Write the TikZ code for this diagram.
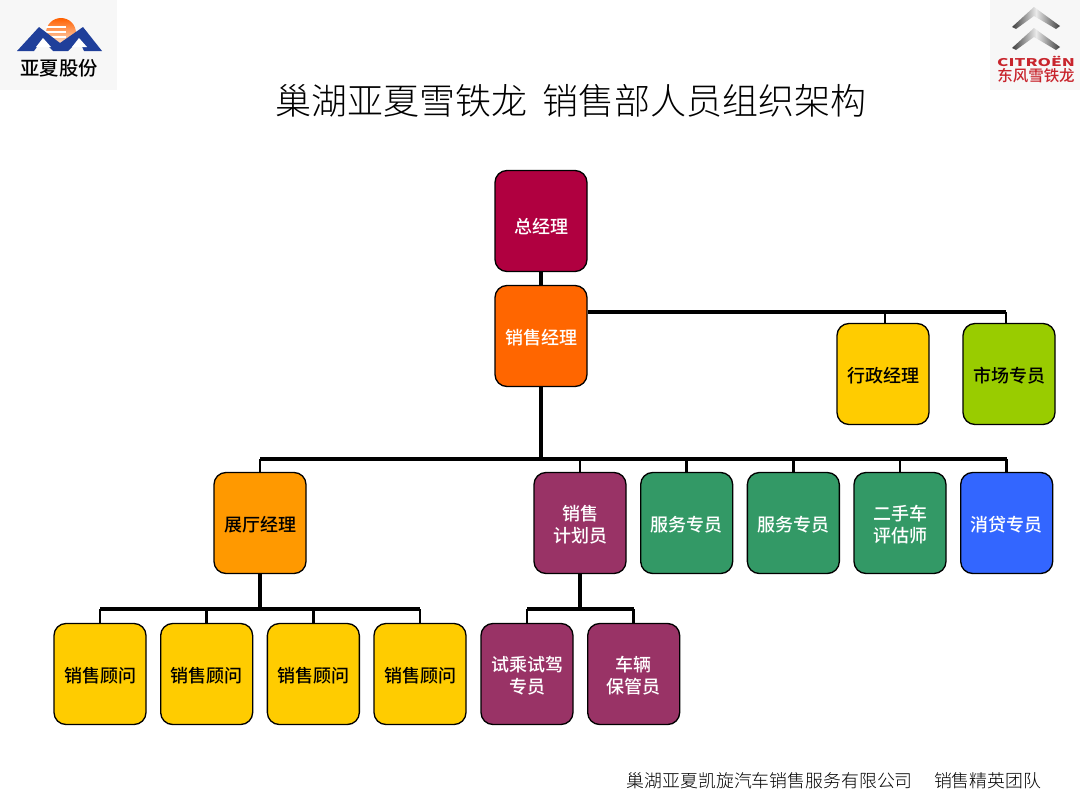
\documentclass[tikz,border=0pt]{standalone}
\usepackage{fontspec}
\setmainfont{Noto Sans CJK SC}
\newfontfamily\thinfont{Noto Sans CJK SC Light}
\newfontfamily\midfont{Noto Sans CJK SC Medium}
\usetikzlibrary{positioning}

\definecolor{crimson}{HTML}{B00040}
\definecolor{orangered}{HTML}{FF6600}
\definecolor{amber}{HTML}{FF9900}
\definecolor{gold}{HTML}{FFCC00}
\definecolor{lime}{HTML}{99CC00}
\definecolor{plum}{HTML}{993366}
\definecolor{teal2}{HTML}{339966}
\definecolor{azure}{HTML}{3366FF}
\definecolor{logoblue}{HTML}{1F3F9A}
\definecolor{logored}{HTML}{C8242C}

\begin{document}
\begin{tikzpicture}[x=0.75pt,y=-0.75pt,node distance=10pt,
  post/.style={draw=black,line width=1pt,rounded corners=9pt,minimum width=69pt,
    minimum height=75.75pt,inner sep=0pt,align=center,
    font=\fontsize{13.5}{16.5}\midfont\selectfont},
  light/.style={post,text=white},
  dark/.style={post,text=black},
  trunk/.style={line width=2.6pt},
  drop/.style={line width=2pt}]
\useasboundingbox (0,0) rectangle (1080,810);

\node[font=\fontsize{27}{32}\thinfont\selectfont] (title) at (571,101) {巢湖亚夏雪铁龙\ \ 销售部人员组织架构};
\node[font=\fontsize{13.4}{16}\thinfont\selectfont,anchor=east] (footer) at (1046,781) {巢湖亚夏凯旋汽车销售服务有限公司\hspace{16pt}销售精英团队};

% top of the chart
\node[light,fill=crimson] (gm) at (541,221) {\rule{0pt}{20pt}总经理};
\node[light,fill=orangered] (sales) at (541,336) {\rule{0pt}{14pt}销售经理};
\node[dark,fill=gold] (admin) at (883,374) {\rule{0pt}{14pt}行政经理};
\node[dark,fill=lime] (market) at (1009,374) {\rule{0pt}{14pt}市场专员};

% third row
\node[dark,fill=amber] (hall) at (260,523) {\rule{0pt}{14pt}展厅经理};
\node[light,fill=plum] (plan) at (580,523) {\rule{0pt}{14pt}销售\\计划员};
\node[light,fill=teal2,right=of plan] (serva) {\rule{0pt}{14pt}服务专员};
\node[light,fill=teal2,right=of serva] (servb) {\rule{0pt}{14pt}服务专员};
\node[light,fill=teal2,right=of servb] (used) {\rule{0pt}{14pt}二手车\\评估师};
\node[light,fill=azure,right=of used] (loan) {\rule{0pt}{14pt}消贷专员};

% fourth row
\node[dark,fill=gold] (sella) at (100,674) {\rule{0pt}{14pt}销售顾问};
\node[dark,fill=gold,right=of sella] (sellb) {\rule{0pt}{14pt}销售顾问};
\node[dark,fill=gold,right=of sellb] (sellc) {\rule{0pt}{14pt}销售顾问};
\node[dark,fill=gold,right=of sellc] (selld) {\rule{0pt}{14pt}销售顾问};
\node[light,fill=plum] (drive) at (527,674) {\rule{0pt}{14pt}试乘试驾\\专员};
\node[light,fill=plum,right=of drive] (keep) {\rule{0pt}{14pt}车辆\\保管员};

\coordinate (busa) at (541,459);
\coordinate (busb) at (885,312);
\coordinate (busc) at (260,609);
\coordinate (busd) at (580,609);
\coordinate (buse) at (1006,312);

\draw[trunk] (gm) -- (sales);
\draw[trunk] (sales.south) -- (busa);
\draw[trunk] (sales.east |- busb) -- (buse);
\draw[drop] (buse) -- (buse |- market.north);
\draw[drop] (busb) -- (busb |- admin.north);
\foreach \n in {plan,serva,servb,used,loan,hall} {
  \draw[trunk] (busa) -- (\n.north |- busa);
  \draw[drop] (\n.north |- busa) -- (\n.north);
}
\draw[trunk] (hall) -- (busc);
\foreach \n in {sella,sellb,sellc,selld} {
  \draw[trunk] (busc) -- (\n.north |- busc);
  \draw[drop] (\n.north |- busc) -- (\n.north);
}
\draw[trunk] (plan) -- (busd);
\foreach \n in {drive,keep} {
  \draw[trunk] (busd) -- (\n.north |- busd);
  \draw[drop] (\n.north |- busd) -- (\n.north);
}

% left logo
\fill[black!3] (0,0) rectangle (117,90);
\shade[top color=orange!75!red,bottom color=orange!10] (61,33) circle (15);
\foreach \sy in {27,32,37}
  \draw[white,line width=0.8pt] (46,\sy) -- (66,\sy);
\fill[logoblue] (17,51) -- (39,27) -- (60,43) -- (83,27) -- (102,51) -- (84,51) -- (79,40) -- (68,51) -- (53,51) -- (42,40) -- (34,51) -- cycle;
\fill[white] (36,47) -- (43,38) -- (51,47) -- cycle (72,47) -- (79,38) -- (87,47) -- cycle;
\node[font=\fontsize{14.5}{18}\midfont\selectfont,inner sep=0pt] (logoa) at (59,68) {亚夏股份};

% right logo
\fill[black!3] (990,0) rectangle (1080,90);
\foreach \dy in {0,21} {
  \shade[left color=black!75,right color=black!75,middle color=black!8,yshift=-0.75*\dy]
    (1012,27) -- (1034,7) -- (1060,26) -- (1056,29) -- (1034,16) -- (1016,29) -- cycle;
}
\node[font=\fontsize{8}{10}\bfseries\selectfont,text=logored,inner sep=0pt] (logob) at (1036,61) {\scalebox{1.6}[1]{CITROËN}};
\node[font=\fontsize{11.6}{13}\midfont\selectfont,text=logored,inner sep=0pt] (logoc) at (1036,76) {东风雪铁龙};
\end{tikzpicture}
\end{document}
